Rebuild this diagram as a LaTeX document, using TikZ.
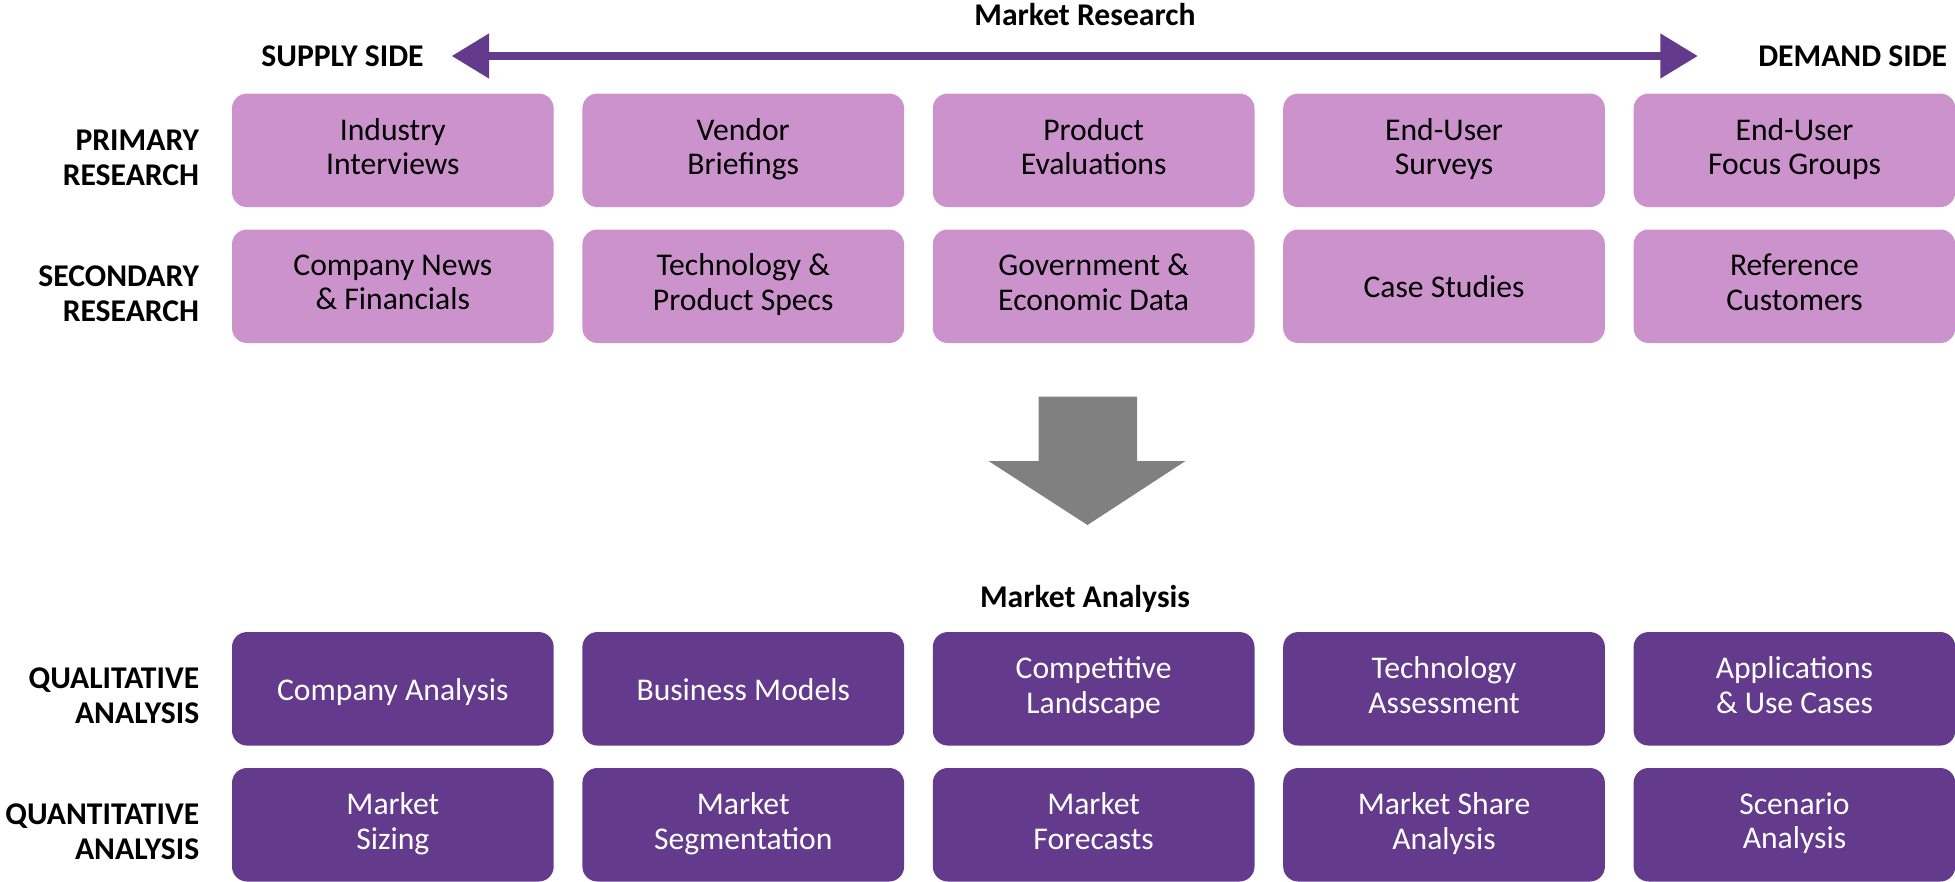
\documentclass[tikz,border=0pt]{standalone}
\usepackage{fontspec}
\setmainfont{Carlito}
\usetikzlibrary{positioning}
\usetikzlibrary{arrows.meta}
\definecolor{lightpurple}{RGB}{204,146,204}
\definecolor{darkpurple}{RGB}{99,58,140}
\definecolor{arrowgray}{RGB}{128,128,128}
\newcommand\topstrut{\rule{0pt}{17.5pt}}
\newcommand\botstrut{\rule[-4.5pt]{0pt}{4.5pt}}
\tikzset{lightbox/.style={rectangle,rounded corners=0.3cm,fill=lightpurple,
    minimum width=6.434cm,minimum height=2.27cm,inner sep=0pt,outer sep=0pt,
    align=center,font=\fontsize{18}{19.7}\selectfont,
    execute at begin node=\topstrut,execute at end node=\botstrut},
    darkbox/.style={lightbox,fill=darkpurple,text=white},
    rowlabel/.style={align=right,inner sep=0pt,yshift=-0.25cm,
    font=\bfseries\fontsize{18}{20}\selectfont,
    execute at begin node=\strut,execute at end node=\strut},
    sidelabel/.style={inner sep=0pt,font=\bfseries\fontsize{18}{20}\selectfont},
    purplearrow/.style={{Triangle[length=0.75cm,width=0.85cm]}-{Triangle[length=0.75cm,width=0.85cm]},
    darkpurple,line width=5pt}}
\begin{document}
\begin{tikzpicture}
        \useasboundingbox (0,0) rectangle (39.1,-17.64);
        % research
        \node[lightbox] (ind) at (7.857,-3.006) {Industry\\Interviews};
        \node[lightbox,right=0.574cm of ind] (ven) {Vendor\\Briefings};
        \node[lightbox,right=0.574cm of ven] (pev) {Product\\Evaluations};
        \node[lightbox,right=0.574cm of pev] (eus) {End-User\\Surveys};
        \node[lightbox,right=0.574cm of eus] (efg) {End-User\\Focus Groups};
        \node[lightbox,below=0.449cm of ind] (cnf) {Company News\\\& Financials};
        \node[lightbox,right=0.574cm of cnf] (tps) {Technology \&\\Product Specs};
        \node[lightbox,right=0.574cm of tps] (ged) {Government \&\\Economic Data};
        \node[lightbox,right=0.574cm of ged] (cst) {Case Studies};
        \node[lightbox,right=0.574cm of cst] (rcu) {Reference\\Customers};
        % analysis
        \node[darkbox] (can) at (7.857,-13.776) {Company Analysis};
        \node[darkbox,right=0.574cm of can] (bmo) {Business Models};
        \node[darkbox,right=0.574cm of bmo] (cla) {Competitive\\Landscape};
        \node[darkbox,right=0.574cm of cla] (tas) {Technology\\Assessment};
        \node[darkbox,right=0.574cm of tas] (auc) {Applications\\\& Use Cases};
        \node[darkbox,below=0.449cm of can] (msz) {Market\\Sizing};
        \node[darkbox,right=0.574cm of msz] (mseg) {Market\\Segmentation};
        \node[darkbox,right=0.574cm of mseg] (mfc) {Market\\Forecasts};
        \node[darkbox,right=0.574cm of mfc] (msa) {Market Share\\Analysis};
        \node[darkbox,right=0.574cm of msa] (sca) {Scenario\\Analysis};
        % row labels
        \node[rowlabel,left=0.65cm of ind] (pri) {PRIMARY\\RESEARCH};
        \node[rowlabel,left=0.65cm of cnf] (sec) {SECONDARY\\RESEARCH};
        \node[rowlabel,left=0.65cm of can] (qual) {QUALITATIVE\\ANALYSIS};
        \node[rowlabel,left=0.65cm of msz] (quan) {QUANTITATIVE\\ANALYSIS};
        % titles
        \node[sidelabel] (mres) at (21.7,-0.3) {Market Research};
        \node[sidelabel] (mana) at (21.7,-11.97) {Market Analysis};
        \node[sidelabel,anchor=east] (sup) at (8.48,-1.12) {SUPPLY SIDE};
        \node[sidelabel,anchor=east] (dem) at (38.95,-1.12) {DEMAND SIDE};
        \draw[purplearrow,shorten <=0.55cm,shorten >=1.2cm](sup)--(dem);
        \fill[arrowgray] (20.77,-7.93)--(22.74,-7.93)--(22.74,-9.22)--(23.71,-9.22)
            --(21.75,-10.5)--(19.77,-9.22)--(20.77,-9.22)--cycle;
    \end{tikzpicture}
\end{document}
